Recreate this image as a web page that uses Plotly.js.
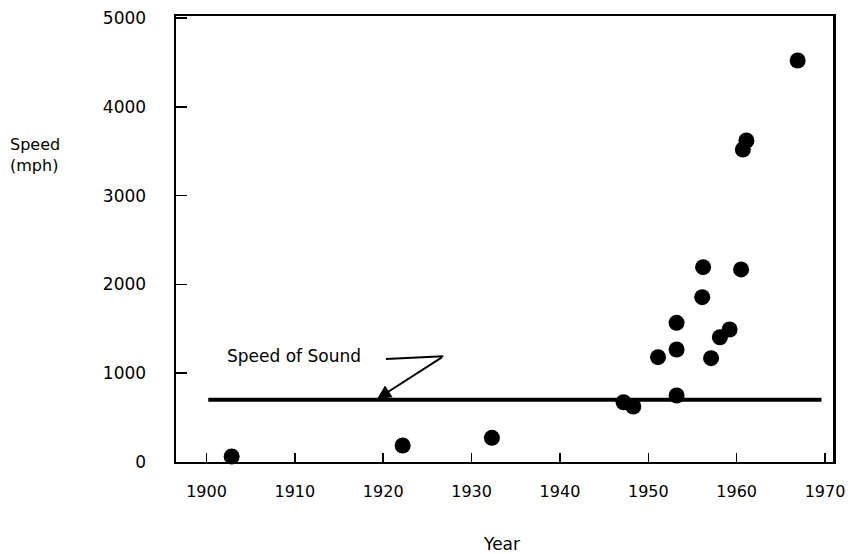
<!DOCTYPE html>
<html>
<head>
<meta charset="utf-8">
<script src="https://cdn.plot.ly/plotly-3.0.1.min.js"></script>
<style>html,body{margin:0;padding:0;background:#fff;}#chart{width:861px;height:554px;}</style>
</head>
<body>
<div id="chart"></div>
<script>
// Record speeds
const years  = [1902.85, 1922.2, 1932.3, 1947.2, 1948.3, 1951.1, 1953.2, 1953.2, 1953.2, 1956.1, 1956.2, 1957.1, 1958.1, 1959.2, 1960.5, 1960.7, 1961.1, 1966.9];
const speeds = [62, 186, 272, 673, 625, 1180, 749, 1267, 1567, 1856, 2194, 1169, 1405, 1492, 2168, 3519, 3620, 4521];

// Speed of sound reference line
const soundX = [1900.2, 1969.6];
const soundY = [700, 700];

// Callout leader (horizontal part) and arrow
const calloutX = [1920.3, 1926.8];
const calloutY = [1160, 1190];
const arrowTip = {x: 1919.3, y: 710};
const calloutLabel = "Speed of Sound";

const xTicks = [1900, 1910, 1920, 1930, 1940, 1950, 1960, 1970];
const yTicks = [0, 1000, 2000, 3000, 4000, 5000];

const font = "DejaVu Sans, Arial, sans-serif";

const traces = [
  {x: soundX, y: soundY, mode: 'lines', line: {color: '#000', width: 4}, hoverinfo: 'skip', cliponaxis: false},
  {x: calloutX, y: calloutY, mode: 'lines', line: {color: '#000', width: 2}, hoverinfo: 'skip', cliponaxis: false},
  {x: years, y: speeds, mode: 'markers', marker: {color: '#000', size: 16}, cliponaxis: false}
];

const layout = {
  width: 861, height: 554,
  margin: {l: 176, r: 28, t: 16, b: 92},
  paper_bgcolor: '#fff', plot_bgcolor: '#fff',
  showlegend: false,
  font: {family: font, color: '#000', size: 16},
  xaxis: {
    range: [1896.55, 1970.9],
    tickvals: xTicks, ticktext: xTicks.map(String),
    ticks: 'inside', ticklen: 9, tickwidth: 1.5, tickcolor: '#000',
    showline: true, linecolor: '#000', linewidth: 2, mirror: true,
    showgrid: false, zeroline: false,
    ticklabelstandoff: 14,
    tickfont: {family: font, size: 16, color: '#000'}
  },
  yaxis: {
    range: [0, 5022],
    tickvals: yTicks, ticktext: yTicks.map(String),
    ticks: 'inside', ticklen: 11, tickwidth: 1.5, tickcolor: '#000',
    showline: true, linecolor: '#000', linewidth: 2.5, mirror: true,
    showgrid: false, zeroline: false,
    ticklabelstandoff: 24,
    tickfont: {family: font, size: 17, color: '#000'}
  },
  annotations: [
    {x: arrowTip.x, y: arrowTip.y, xref: 'x', yref: 'y',
     ax: calloutX[1], ay: calloutY[1], axref: 'x', ayref: 'y',
     showarrow: true, arrowhead: 2, arrowsize: 1.4, arrowwidth: 2, arrowcolor: '#000', text: ''},
    {x: 1902.1, y: 1190, xref: 'x', yref: 'y', xanchor: 'left', yanchor: 'middle',
     text: calloutLabel, showarrow: false, font: {family: font, size: 17, color: '#000'}},
    {x: (8 - 176) / 657, y: (462 - 155) / 446, xref: 'paper', yref: 'paper', xanchor: 'left', yanchor: 'middle', align: 'left',
     text: 'Speed<br>(mph)', showarrow: false, font: {family: font, size: 16, color: '#000'}},
    {x: (501 - 176) / 657, y: (462 - 544) / 446, xref: 'paper', yref: 'paper', xanchor: 'center', yanchor: 'middle',
     text: 'Year', showarrow: false, font: {family: font, size: 17, color: '#000'}}
  ]
};

Plotly.newPlot('chart', traces, layout, {staticPlot: true, displayModeBar: false});
</script>
</body>
</html>
